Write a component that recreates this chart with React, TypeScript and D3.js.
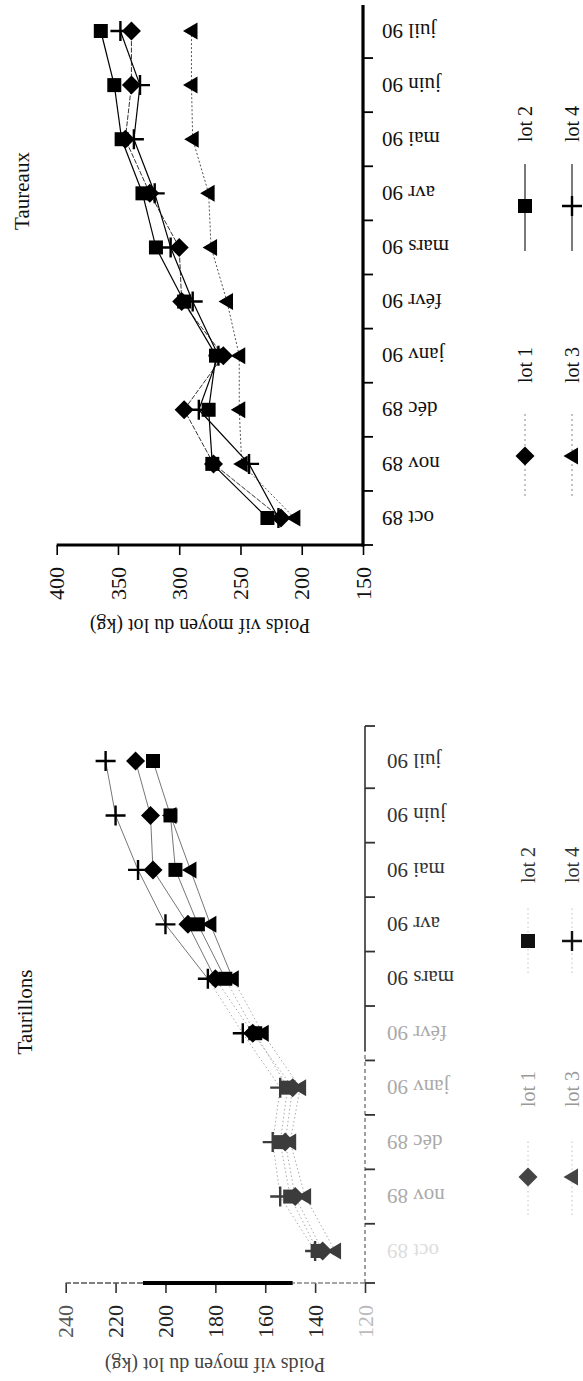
import React, { useEffect, useRef } from "react";
import * as d3 from "d3";

// The scanned page is lying on its side: everything is drawn in the page's own
// frame (1381 wide x 583 tall) and then turned 90deg counter-clockwise.
const PAGE_W = 583;
const PAGE_H = 1381;
const FONT = "'Liberation Serif', 'Times New Roman', serif";

const months = ["oct 89", "nov 89", "déc 89", "janv 90", "févr 90", "mars 90", "avr 90", "mai 90", "juin 90", "juil 90"];
const lots = ["lot 1", "lot 2", "lot 3", "lot 4"];
const yTitle = "Poids vif moyen du lot (kg)";

// Taureaux, mean live weight (kg)
const taureauxLot1 = [217, 272, 296, 264, 298, 300, 324, 344, 339, 339];
const taureauxLot2 = [228, 273, 276, 270, 296, 319, 330, 347, 353, 364];
const taureauxLot3 = [206, 249, 251, 251, 261, 274, 276, 289, 290, 290];
const taureauxLot4 = [219, 243, 284, 268, 289, 307, 320, 337, 332, 348];
const taureauxTicks = [150, 200, 250, 300, 350, 400];

// Taurillons, mean live weight (kg)
const taurillonsLot1 = [137, 148, 152, 149, 165, 180, 191, 205, 206, 212];
const taurillonsLot2 = [139, 150, 154, 151, 164, 176, 187, 196, 198, 205];
const taurillonsLot3 = [132, 144, 150, 146, 161, 173, 182, 190, 198, null];
const taurillonsLot4 = [140, 154, 157, 154, 169, 183, 200, 211, 220, 224];
const taurillonsTicks = [120, 140, 160, 180, 200, 220, 240];

const shapes = ["diamond", "square", "triangle", "plus"];
const markerPath: Record<string, string> = {
  diamond: "M0,-9.5L9.5,0L0,9.5L-9.5,0Z",
  square: "M-7,-7H7V7H-7Z",
  triangle: "M0,-8.5L8.5,6L-8.5,6Z",
  plus: "M-10,0H10M0,-10V10",
};
const drawOrder = [2, 0, 1, 3];

function drawMarker(g, shape, cx, cy, color) {
  const p = g.append("path")
    .attr("d", markerPath[shape])
    .attr("transform", "translate(" + cx + "," + cy + ")");
  if (shape === "plus") {
    p.attr("fill", "none").attr("stroke", color).attr("stroke-width", 2.4);
  } else {
    p.attr("fill", color);
  }
}

function drawPanel(svg, cfg) {
  const g = svg.append("g");
  const x = d3.scalePoint().domain(months).range(cfg.points);
  const y = d3.scaleLinear().domain(cfg.yDomain).range(cfg.yRange);
  const step = x.step();
  const boundaries = months.slice(1).map((m) => x(m) - step / 2).concat(cfg.endTicks);

  // title
  g.append("text")
    .attr("x", cfg.titleX)
    .attr("y", cfg.titleY)
    .attr("text-anchor", "middle")
    .attr("font-family", FONT)
    .attr("font-size", 21)
    .attr("fill", "#111")
    .text(cfg.title);

  // y axis (values)
  const yAxis = d3.axisLeft(y).tickValues(cfg.ticks).tickSize(10).tickPadding(12).tickSizeOuter(0);
  const ya = g.append("g")
    .attr("transform", "translate(" + cfg.axisStart + ",0)")
    .call(yAxis);
  ya.select(".domain").remove();
  ya.selectAll(".tick line").attr("stroke", cfg.axisColor).attr("stroke-width", 1.6);
  ya.selectAll(".tick text")
    .attr("font-family", FONT)
    .attr("font-size", 22)
    .attr("fill", (d) => cfg.tickFill(d));

  cfg.yDomainSegments.forEach((s) => {
    g.append("line")
      .attr("x1", cfg.axisStart).attr("x2", cfg.axisStart)
      .attr("y1", y(s.from)).attr("y2", y(s.to))
      .attr("stroke", s.color)
      .attr("stroke-width", s.width)
      .attr("stroke-dasharray", s.dash || null);
  });

  g.append("text")
    .attr("transform", "translate(" + cfg.yTitleX + "," + cfg.yTitleY + ") rotate(-90)")
    .attr("dy", "0.35em")
    .attr("text-anchor", "middle")
    .attr("font-family", FONT)
    .attr("font-size", 20)
    .attr("fill", cfg.yTitleFill)
    .text(yTitle);

  // x axis (months)
  cfg.xDomainSegments.forEach((s) => {
    g.append("line")
      .attr("x1", s.from).attr("x2", s.to)
      .attr("y1", y(cfg.yDomain[0])).attr("y2", y(cfg.yDomain[0]))
      .attr("stroke", s.color)
      .attr("stroke-width", s.width)
      .attr("stroke-dasharray", s.dash || null);
  });
  const axisY = y(cfg.yDomain[0]);
  g.selectAll(".mtick")
    .data(boundaries)
    .enter().append("line")
    .attr("x1", (d) => d).attr("x2", (d) => d)
    .attr("y1", axisY).attr("y2", axisY + 10)
    .attr("stroke", cfg.axisColor)
    .attr("stroke-width", 1.8);
  g.selectAll(".mlabel")
    .data(months)
    .enter().append("text")
    .attr("transform", (d) => "translate(" + x(d) + "," + (axisY + cfg.monthGap) + ") rotate(-90)")
    .attr("dy", "0.35em")
    .attr("text-anchor", "end")
    .attr("font-family", FONT)
    .attr("font-size", 21)
    .attr("fill", (d, i) => cfg.monthFill(i))
    .text((d) => d);

  // lines
  cfg.series.forEach((vals, si) => {
    for (let i = 1; i < vals.length; i++) {
      if (vals[i - 1] == null || vals[i] == null) continue;
      const st = cfg.lineStyle(si, i);
      g.append("line")
        .attr("x1", x(months[i - 1])).attr("y1", y(vals[i - 1]))
        .attr("x2", x(months[i])).attr("y2", y(vals[i]))
        .attr("stroke", st.color)
        .attr("stroke-width", st.width)
        .attr("stroke-dasharray", st.dash || null);
    }
  });

  // markers
  drawOrder.forEach((si) => {
    cfg.series[si].forEach((v, i) => {
      if (v == null) return;
      drawMarker(g, shapes[si], x(months[i]), y(v), cfg.markerFill(i));
    });
  });

  // legend
  lots.forEach((name, i) => {
    const col = cfg.legend.cols[i % 2];
    const ry = cfg.legend.rows[Math.floor(i / 2)];
    const st = cfg.lineStyle(i, 99);
    g.append("line")
      .attr("x1", col.line[0]).attr("x2", col.line[1])
      .attr("y1", ry).attr("y2", ry)
      .attr("stroke", cfg.legend.lineColor(i) || st.color)
      .attr("stroke-width", st.width)
      .attr("stroke-dasharray", cfg.legend.lineDash(i));
    drawMarker(g, shapes[i], col.marker, ry, cfg.legend.markerFill(i));
    g.append("text")
      .attr("x", col.label)
      .attr("y", ry)
      .attr("dy", "0.35em")
      .attr("font-family", FONT)
      .attr("font-size", 20)
      .attr("fill", cfg.legend.labelFill(i))
      .text(name);
  });
}

const taureauxStyle = [
  { color: "#333", width: 1, dash: "5,1.5" },
  { color: "#000", width: 1.2 },
  { color: "#555", width: 1, dash: "2,2" },
  { color: "#000", width: 1.2 },
];

const taureauxCfg = {
  title: "Taureaux",
  titleX: 1190,
  titleY: 29,
  points: [863, 1350],
  endTicks: [836],
  axisStart: 836,
  yDomain: [150, 400],
  yRange: [363, 56.7],
  ticks: taureauxTicks,
  axisColor: "#000",
  tickFill: () => "#111",
  yDomainSegments: [{ from: 150, to: 400, color: "#000", width: 3.2 }],
  xDomainSegments: [{ from: 834.5, to: 1376, color: "#000", width: 3.2 }],
  yTitleX: 755,
  yTitleY: 200,
  yTitleFill: "#111",
  monthGap: 19,
  monthFill: () => "#111",
  series: [taureauxLot1, taureauxLot2, taureauxLot3, taureauxLot4],
  lineStyle: (si) => taureauxStyle[si],
  markerFill: () => "#000",
  legend: {
    cols: [
      { line: [885, 969], marker: 925, label: 998 },
      { line: [1130, 1217], marker: 1175, label: 1239 },
    ],
    rows: [525, 572],
    lineColor: (i) => (i % 2 === 0 ? "#888" : "#222"),
    lineDash: (i) => (i % 2 === 0 ? "2,3" : null),
    markerFill: () => "#000",
    labelFill: () => "#111",
  },
};

const taurillonsCfg = {
  title: "Taurillons",
  titleX: 369,
  titleY: 32,
  points: [130, 620],
  endTicks: [98, 655],
  axisStart: 98,
  yDomain: [120, 240],
  yRange: [365, 65.7],
  ticks: taurillonsTicks,
  axisColor: "#333",
  tickFill: (d) => (d === 120 ? "#bbb" : d === 240 ? "#555" : "#222"),
  yDomainSegments: [
    { from: 120, to: 149, color: "#888", width: 1.4, dash: "5,2" },
    { from: 149, to: 209, color: "#000", width: 4 },
    { from: 209, to: 240, color: "#555", width: 1.6, dash: "6,2" },
  ],
  xDomainSegments: [
    { from: 98, to: 330, color: "#777", width: 1.4, dash: "4,3" },
    { from: 330, to: 655, color: "#333", width: 1.6 },
  ],
  yTitleX: 16,
  yTitleY: 215,
  yTitleFill: "#444",
  monthGap: 22,
  monthFill: (i) => (i === 0 ? "#ddd" : i < 5 ? "#aaa" : "#333"),
  series: [taurillonsLot1, taurillonsLot2, taurillonsLot3, taurillonsLot4],
  lineStyle: (si, i) =>
    i <= 5
      ? { color: "#aaa", width: 1, dash: "1.5,2.5" }
      : { color: "#666", width: 0.9 },
  markerFill: (i) => (i < 4 ? "#3c3c3c" : "#000"),
  legend: {
    cols: [
      { line: [166, 242], marker: 204, label: 274 },
      { line: [408, 474], marker: 440, label: 498 },
    ],
    rows: [528, 572],
    lineColor: () => "#bbb",
    lineDash: () => "1.5,3",
    markerFill: (i) => (i % 2 === 0 ? "#444" : "#111"),
    labelFill: (i) => (i % 2 === 0 ? "#999" : "#333"),
  },
};

export default function App() {
  const ref = useRef(null);

  useEffect(() => {
    const root = d3.select(ref.current);
    root.selectAll("*").remove();
    const page = root.append("g")
      .attr("transform", "translate(0," + PAGE_H + ") rotate(-90)");
    drawPanel(page, taurillonsCfg);
    drawPanel(page, taureauxCfg);
  }, []);

  return (
    <svg
      ref={ref}
      width={PAGE_W}
      height={PAGE_H}
      style={{ position: "absolute", left: 0, top: 0, background: "#fff" }}
    ></svg>
  );
}
